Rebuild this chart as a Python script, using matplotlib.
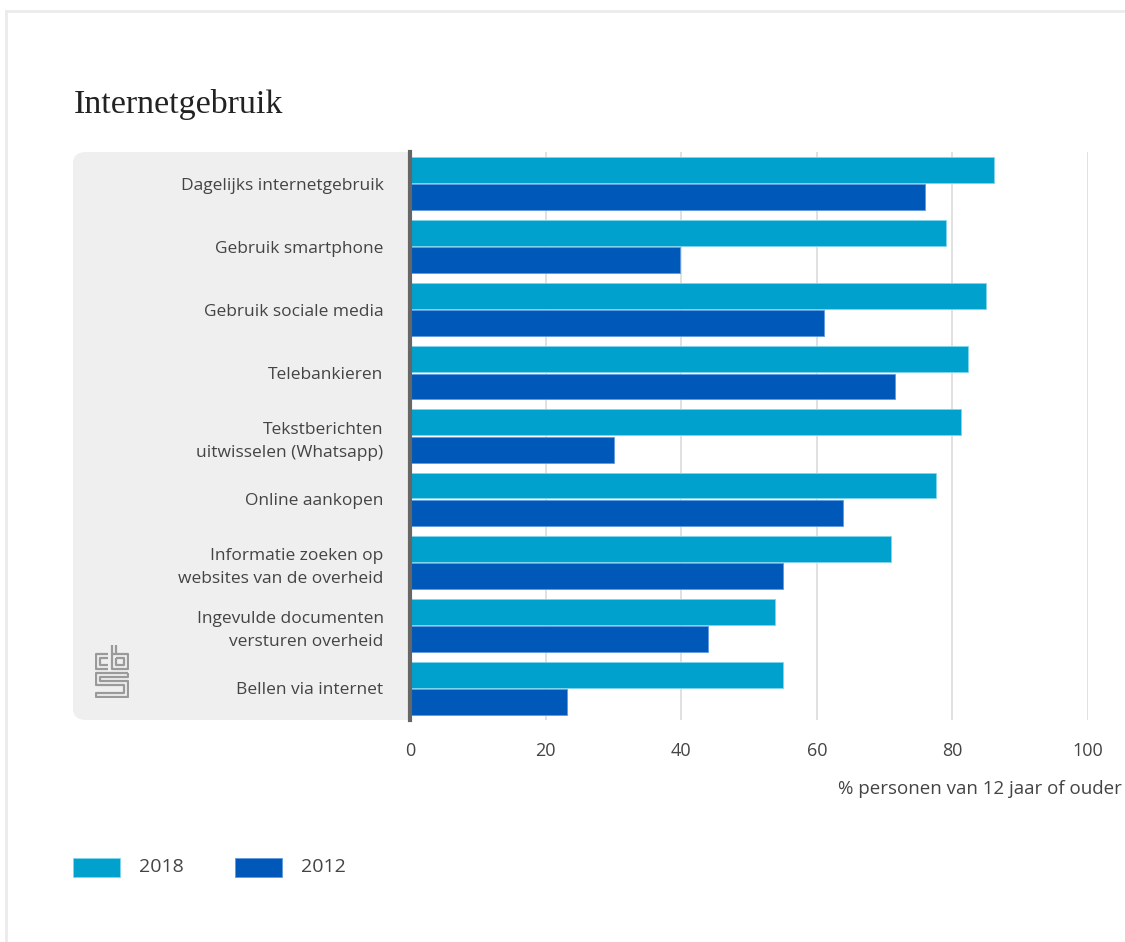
import matplotlib.pyplot as plt
import numpy as np
from matplotlib.patches import FancyBboxPatch, Rectangle
from matplotlib.lines import Line2D

# data
categories = [
    "Dagelijks internetgebruik",
    "Gebruik smartphone",
    "Gebruik sociale media",
    "Telebankieren",
    "Tekstberichten\nuitwisselen (Whatsapp)",
    "Online aankopen",
    "Informatie zoeken op\nwebsites van de overheid",
    "Ingevulde documenten\nversturen overheid",
    "Bellen via internet",
]
values_2018 = [86.2, 79.1, 84.9, 82.3, 81.2, 77.6, 71.0, 53.8, 55.0]
values_2012 = [76.0, 39.8, 61.1, 71.6, 30.1, 63.8, 55.0, 43.9, 23.2]
series_labels = ["2018", "2012"]
xticks = [0, 20, 40, 60, 80, 100]
xlabel = "% personen van 12 jaar of ouder"
title = "Internetgebruik"

c2018 = "#00a1cd"
c2012 = "#0058b8"
text_col = "#444444"

plt.rcParams['font.family'] = ['Open Sans', 'DejaVu Sans']

W, H = 1125, 942
fig = plt.figure(figsize=(W / 100, H / 100), dpi=100)

def fx(px):
    return px / W

def fy(py):
    return 1 - py / H

# outer frame (top and left edge)
fig.add_artist(Line2D([fx(6), 1], [fy(11), fy(11)], color="#ebebeb", lw=2))
fig.add_artist(Line2D([fx(6), fx(6)], [fy(11), 0], color="#ebebeb", lw=2))

# grey label panel
panel = FancyBboxPatch((fx(73), fy(720)), fx(410) - fx(73), fy(152) - fy(720),
                       boxstyle="round,pad=0,rounding_size=0.012",
                       transform=fig.transFigure, facecolor="#efefef",
                       edgecolor="none", zorder=0)
fig.add_artist(panel)
fig.add_artist(Rectangle((fx(395), fy(720)), fx(410) - fx(395), fy(152) - fy(720),
                         transform=fig.transFigure, facecolor="#efefef",
                         edgecolor="none", zorder=0))

ax = fig.add_axes([fx(410), fy(720), fx(1088) - fx(410), fy(152) - fy(720)])
ax.patch.set_alpha(0)

y = np.arange(len(categories))
h = 0.41
ax.barh(y - h / 2 - 0.01, values_2018, height=h, color=c2018,
        edgecolor="#7fd6ee", linewidth=0.6, zorder=3)
ax.barh(y + h / 2 + 0.01, values_2012, height=h, color=c2012,
        edgecolor="#5f9ae0", linewidth=0.6, zorder=3)

ax.set_xlim(0, 100)
ax.set_ylim(len(categories) - 0.5, -0.5)
ax.set_xticks(xticks)
ax.set_xticklabels([str(t) for t in xticks])
ax.set_yticks(y)
ax.set_yticklabels(categories, ha="right", linespacing=1.55)
ax.tick_params(axis="y", length=0, pad=19, labelsize=12.5, labelcolor=text_col)
ax.tick_params(axis="x", length=0, pad=16, labelsize=13, labelcolor=text_col)
for t in xticks[1:]:
    ax.axvline(t, color="#dcdcdc", lw=1.2, zorder=1)
for s in ["top", "right", "bottom"]:
    ax.spines[s].set_visible(False)
ax.spines["left"].set_color("#666666")
ax.spines["left"].set_linewidth(3)
ax.spines["left"].set_zorder(4)

fig.text(fx(1122), fy(789), xlabel, ha="right", va="center",
         fontsize=13.5, color=text_col)

fig.text(fx(74), fy(104), title, ha="left", va="center",
         fontsize=24.5, color="#222222", family="Liberation Serif")

# legend
for px, lab, col, ec in [(73, series_labels[0], c2018, "#7fd6ee"),
                         (235, series_labels[1], c2012, "#5f9ae0")]:
    fig.add_artist(Rectangle((fx(px), fy(877)), fx(47), fy(858) - fy(877),
                             transform=fig.transFigure, facecolor=col,
                             edgecolor=ec, lw=0.6))
    fig.text(fx(px + 66), fy(867), lab, ha="left", va="center",
             fontsize=14, color=text_col)

# simple cbs logo
lg = fig.add_axes([fx(95), fy(698), fx(34), fy(644) - fy(698)])
lg.set_xlim(0, 34)
lg.set_ylim(54, 0)
lg.axis("off")
lk = dict(color="#9a9a9a", lw=1.6, solid_capstyle="butt")
# c
lg.plot([13, 1, 1, 13], [10, 10, 25, 25], **lk)
lg.plot([13, 5, 5, 13], [14, 14, 21, 21], **lk)
# b
lg.plot([17, 17, 33, 33, 17], [1, 25, 25, 10, 10], **lk)
lg.plot([21, 21], [1, 10], **lk)
lg.plot([21, 29, 29, 21, 21], [14, 14, 21, 21, 14], **lk)
# s
lg.plot([33, 1, 1, 29, 29, 1, 1, 33, 33, 5, 5, 33, 33],
        [29, 29, 41, 41, 49, 49, 53, 53, 37, 37, 33, 33, 29], **lk)

fig.savefig("out.png", dpi=100)
